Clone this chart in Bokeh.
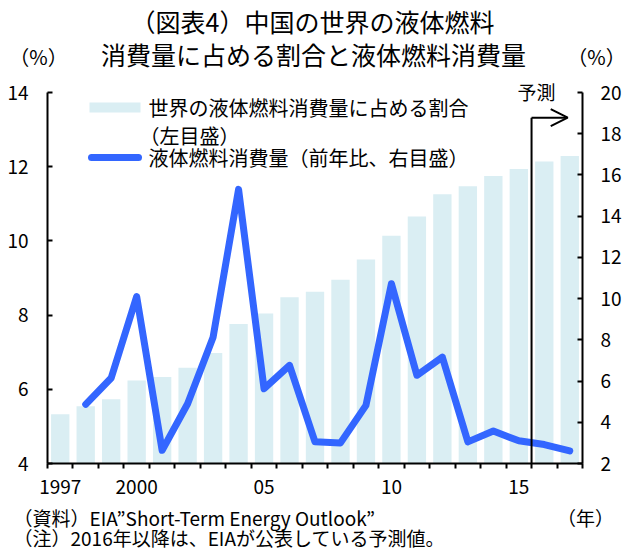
from bokeh.plotting import figure
from bokeh.models import Range1d, LinearAxis, FixedTicker, Label, Arrow, OpenHead, BoxAnnotation
from bokeh.embed import file_html
from bokeh.resources import INLINE

# China's share of world liquid fuel consumption (%, left axis)
years = list(range(1997, 2018))
share_world = [5.33, 5.54, 5.73, 6.24, 6.33, 6.58, 6.98, 7.76, 8.04, 8.48, 8.63,
               8.95, 9.50, 10.14, 10.66, 11.26, 11.47, 11.75, 11.94, 12.14, 12.29]

# China's liquid fuel consumption, year-on-year growth (%, right axis)
growth_years = list(range(1998, 2018))
growth_yoy = [4.87, 6.15, 10.1, 2.64, 4.9, 8.13, 15.3, 5.63, 6.76, 3.05,
              3.0, 4.82, 10.72, 6.28, 7.16, 3.05, 3.58, 3.1, 2.92, 2.61]

left_ticks = [4, 6, 8, 10, 12, 14]
right_ticks = [2, 4, 6, 8, 10, 12, 14, 16, 18, 20]
year_label_years = [1997, 2000, 2005, 2010, 2015]
year_label_texts = ["1997", "2000", "05", "10", "15"]
forecast_from = 2016

W, H = 630, 552
# plotting area inside the canvas (pixels from the left / top edge)
AREA_L, AREA_R, AREA_T, AREA_B = 47, 582, 92, 463
FONT = "Noto Sans CJK JP"
BAR_COLOR = "#DAEEF3"
LINE_COLOR = "#3366FF"

x_lo, x_hi = years[0] - 0.5, years[-1] + 0.5


def padded_range(lo, hi, px_lo, px_hi, px_total):
    """extend [lo, hi] so that it spans the full canvas with the given pixel margins"""
    per_px = (hi - lo) / (px_total - px_lo - px_hi)
    return Range1d(lo - px_lo * per_px, hi + px_hi * per_px)


x_range = padded_range(x_lo, x_hi, AREA_L, W - AREA_R, W)
y_left = padded_range(left_ticks[0], left_ticks[-1], H - AREA_B, AREA_T, H)
y_right = padded_range(right_ticks[0], right_ticks[-1], H - AREA_B, AREA_T, H)


def sy(top):
    """annotation screen y from a distance to the canvas's top edge"""
    return H - top


p = figure(width=W, height=H, x_range=x_range, y_range=y_left,
           output_backend="svg", toolbar_location=None,
           x_axis_location=None, y_axis_location=None,
           min_border_left=0, min_border_right=0,
           min_border_top=0, min_border_bottom=0)
p.extra_y_ranges = {"right": y_right}
p.outline_line_color = None
p.grid.visible = False
p.background_fill_color = "white"
p.border_fill_color = "white"

# left and right value axes
yl = LinearAxis(ticker=FixedTicker(ticks=left_ticks, minor_ticks=[]),
                fixed_location=x_lo, bounds=(left_ticks[0], left_ticks[-1]))
yr = LinearAxis(y_range_name="right", ticker=FixedTicker(ticks=right_ticks, minor_ticks=[]),
                fixed_location=x_hi, bounds=(right_ticks[0], right_ticks[-1]))
p.add_layout(yl, "left")
p.add_layout(yr, "right")

for ax in (yl, yr):
    ax.axis_line_width = 2
    ax.axis_line_color = "black"
    ax.major_tick_in = 5
    ax.major_tick_out = 0
    ax.major_tick_line_width = 2
    ax.major_tick_line_color = "black"
    ax.minor_tick_in = 0
    ax.minor_tick_out = 0
    ax.major_label_text_font = FONT
    ax.major_label_text_font_size = "19px"
    ax.major_label_text_color = "black"
yl.major_label_standoff = 19
yr.major_label_standoff = 18

# bottom axis: labelled years at category centres, tick marks on the boundaries
xa = LinearAxis(ticker=FixedTicker(ticks=year_label_years,
                                   minor_ticks=[y - 0.5 for y in years] + [x_hi]),
                fixed_location=left_ticks[0], bounds=(x_lo, x_hi))
p.add_layout(xa, "below")
xa.axis_line_width = 2
xa.axis_line_color = "black"
xa.major_tick_in = 0
xa.major_tick_out = 0
xa.minor_tick_in = 0
xa.minor_tick_out = 5
xa.minor_tick_line_width = 2
xa.minor_tick_line_color = "black"
xa.major_label_overrides = {yv: txt for yv, txt in zip(year_label_years, year_label_texts)}
xa.major_label_text_font = FONT
xa.major_label_text_font_size = "19px"
xa.major_label_text_color = "black"
xa.major_label_standoff = 11

# bars and line
p.vbar(x=years, top=share_world, bottom=left_ticks[0], width=0.72,
       fill_color=BAR_COLOR, line_color=None)
p.line(growth_years, growth_yoy, y_range_name="right", line_width=7,
       line_color=LINE_COLOR, line_join="round", line_cap="round")

# forecast marker
fx = forecast_from - 0.5
arrow_level = 18.78
p.segment(x0=[fx], y0=[right_ticks[0]], x1=[fx], y1=[arrow_level], y_range_name="right",
          line_color="black", line_width=2)
p.add_layout(Arrow(x_start=fx, y_start=arrow_level, x_end=2016.92, y_end=arrow_level,
                   y_range_name="right", line_color="black", line_width=2,
                   end=OpenHead(size=17, line_width=2, line_color="black")))
p.add_layout(Label(x=536, y=sy(91), x_units="screen", y_units="screen", text="予測",
                   text_align="center", text_baseline="middle",
                   text_font=FONT, text_font_size="19px", text_color="black"))

# legend
p.add_layout(BoxAnnotation(left=89, right=140, top=sy(102), bottom=sy(112),
                           left_units="screen", right_units="screen",
                           top_units="screen", bottom_units="screen",
                           fill_color=BAR_COLOR, fill_alpha=1, line_color=None))
p.add_layout(Arrow(x_start=91, y_start=sy(157), x_end=138, y_end=sy(157),
                   start_units="screen", end_units="screen", end=None,
                   line_color=LINE_COLOR, line_width=7, line_cap="round"))
legend_texts = [("世界の液体燃料消費量に占める割合", 148, 107),
                ("（左目盛）", 139, 135),
                ("液体燃料消費量（前年比、右目盛）", 148, 157)]
for txt, lx, ly in legend_texts:
    p.add_layout(Label(x=lx, y=sy(ly), x_units="screen", y_units="screen", text=txt,
                       text_align="left", text_baseline="middle",
                       text_font=FONT, text_font_size="20px", text_color="black"))

# titles, units and notes
texts = [("（図表4）中国の世界の液体燃料", 312, 20, "25px", "center"),
         ("消費量に占める割合と液体燃料消費量", 313, 53, "25px", "center"),
         ("（%）", 38, 56, "20px", "center"),
         ("（%）", 596, 56, "20px", "center"),
         ("（資料）EIA”Short-Term Energy Outlook”", 13, 517, "19px", "left"),
         ("（年）", 585, 517, "19px", "center"),
         ("（注）2016年以降は、EIAが公表している予測値。", 13, 537, "19px", "left")]
for txt, tx, ty, fs, al in texts:
    p.add_layout(Label(x=tx, y=sy(ty), x_units="screen", y_units="screen", text=txt,
                       text_align=al, text_baseline="middle",
                       text_font=FONT, text_font_size=fs, text_color="black"))

open("out.html", "w").write(file_html(p, INLINE))
